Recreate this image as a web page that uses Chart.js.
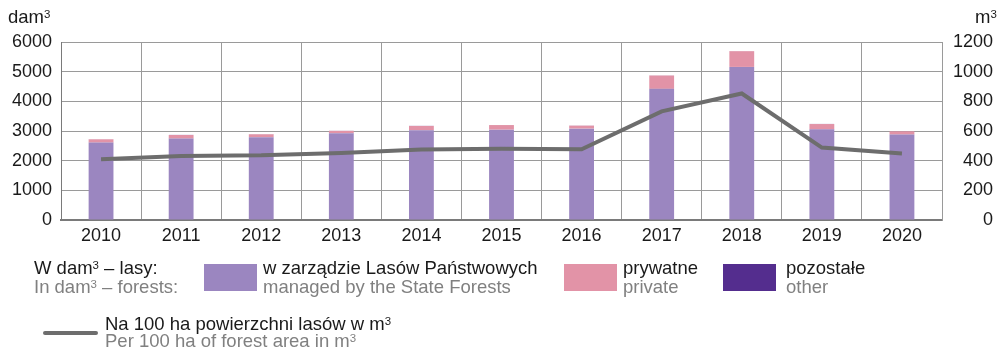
<!DOCTYPE html>
<html>
<head>
<meta charset="utf-8">
<script src="https://cdn.jsdelivr.net/npm/chart.js@4/dist/chart.umd.min.js"></script>
<style>
  html, body { margin: 0; padding: 0; background: #fff; }
  #wrap { position: relative; width: 997px; height: 349px; font-family: "Liberation Sans", Arial, sans-serif; }
  #chart { position: absolute; left: 0; top: 0; }
  .abs { position: absolute; white-space: nowrap; font-size: 18.5px; color: #1a1a1a; }
  .en { color: #808080; }
  .sw { position: absolute; width: 53px; height: 27px; }
  .unit { position: absolute; font-size: 18.5px; color: #1a1a1a; white-space: nowrap; line-height: 22px; }
  .sup { font-size: 0.62em; position: relative; top: -0.45em; vertical-align: baseline; line-height: 0; }
</style>
</head>
<body>
<div id="wrap">
  <canvas id="chart" width="997" height="349"></canvas>
  <div class="unit" style="left:8px; top:6px;">dam<span class="sup">3</span></div>
  <div class="unit" style="left:975px; top:6px;">m<span class="sup">3</span></div>

  <div class="abs" style="left:34px; top:258px; line-height:19px;">W dam<span class="sup">3</span> – lasy:<br><span class="en">In dam<span class="sup">3</span> – forests:</span></div>
  <div class="sw" style="left:204px; top:264px; background:#9b86c0;"></div>
  <div class="abs" style="left:263px; top:258px; line-height:19px;">w zarządzie Lasów Państwowych<br><span class="en">managed by the State Forests</span></div>
  <div class="sw" style="left:564px; top:264px; background:#e293a7;"></div>
  <div class="abs" style="left:623px; top:258px; line-height:19px;">prywatne<br><span class="en">private</span></div>
  <div class="sw" style="left:723px; top:264px; background:#542d8e;"></div>
  <div class="abs" style="left:786px; top:258px; line-height:19px;">pozostałe<br><span class="en">other</span></div>

  <div style="position:absolute; left:43px; top:331px; width:55px; height:4px; background:#6d6d6d; border-radius:2px;"></div>
  <div class="abs" style="left:105px; top:315px; line-height:17px;">Na 100 ha powierzchni lasów w m<span class="sup">3</span><br><span class="en">Per 100 ha of forest area in m<span class="sup">3</span></span></div>
</div>
<script>
// Years on the category axis
const years = ['2010', '2011', '2012', '2013', '2014', '2015', '2016', '2017', '2018', '2019', '2020'];

// Removals in dam³ by forest ownership
const stateForests = [2610, 2745, 2790, 2925, 3025, 3045, 3080, 4420, 5160, 3055, 2880];
const privateForests = [110, 120, 100, 80, 145, 155, 100, 450, 530, 180, 110];
const otherForests = [3, 3, 3, 3, 3, 3, 3, 3, 3, 3, 3];

// Removals per 100 ha of forest area in m³
const per100ha = [410, 432, 436, 452, 475, 481, 477, 732, 853, 488, 448];

// Tick labels of both value axes
const leftTicks = [0, 1000, 2000, 3000, 4000, 5000, 6000];
const rightTicks = [0, 200, 400, 600, 800, 1000, 1200];

const gridColor = '#9a9a9a';
const textColor = '#1a1a1a';
const font = { family: '"Liberation Sans", Arial, sans-serif', size: 18 };

new Chart(document.getElementById('chart'), {
  data: {
    labels: years,
    datasets: [
      {
        type: 'line',
        label: 'Na 100 ha powierzchni lasów w m³',
        data: per100ha,
        yAxisID: 'y1',
        borderColor: '#6d6d6d',
        borderWidth: 4,
        pointRadius: 0,
        tension: 0,
        order: 0
      },
      {
        type: 'bar',
        label: 'w zarządzie Lasów Państwowych',
        data: stateForests,
        backgroundColor: '#9b86c0',
        yAxisID: 'y',
        stack: 's',
        order: 1
      },
      {
        type: 'bar',
        label: 'prywatne',
        data: privateForests,
        backgroundColor: '#e293a7',
        yAxisID: 'y',
        stack: 's',
        order: 1
      },
      {
        type: 'bar',
        label: 'pozostałe',
        data: otherForests,
        backgroundColor: '#542d8e',
        yAxisID: 'y',
        stack: 's',
        order: 1
      }
    ]
  },
  options: {
    responsive: false,
    animation: false,
    layout: { padding: { left: 0, right: 4, top: 42, bottom: 0 } },
    datasets: { bar: { categoryPercentage: 1, barPercentage: 0.31 } },
    plugins: { legend: { display: false }, tooltip: { enabled: false } },
    scales: {
      x: {
        stacked: true,
        offset: true,
        grid: { offset: true, color: gridColor, lineWidth: 1, drawTicks: false },
        border: { color: '#7a7a7a', width: 2 },
        ticks: { color: textColor, font: font, padding: 5, maxRotation: 0 },
        afterFit: s => { s.height = 129; }
      },
      y: {
        stacked: true,
        position: 'left',
        min: 0,
        max: 6000,
        afterBuildTicks: s => { s.ticks = leftTicks.map(v => ({ value: v })); },
        grid: { color: gridColor, lineWidth: 1, drawTicks: false },
        border: { color: '#7a7a7a', width: 1 },
        ticks: { color: textColor, font: font, padding: 9, callback: v => String(v) },
        afterFit: s => { s.width = 61; }
      },
      y1: {
        position: 'right',
        min: 0,
        max: 1200,
        afterBuildTicks: s => { s.ticks = rightTicks.map(v => ({ value: v })); },
        grid: { display: false, drawTicks: false },
        border: { color: gridColor, width: 1 },
        ticks: { color: textColor, font: font, padding: 10, crossAlign: 'far', callback: v => String(v) },
        afterFit: s => { s.width = 51; }
      }
    }
  }
});
</script>
</body>
</html>
